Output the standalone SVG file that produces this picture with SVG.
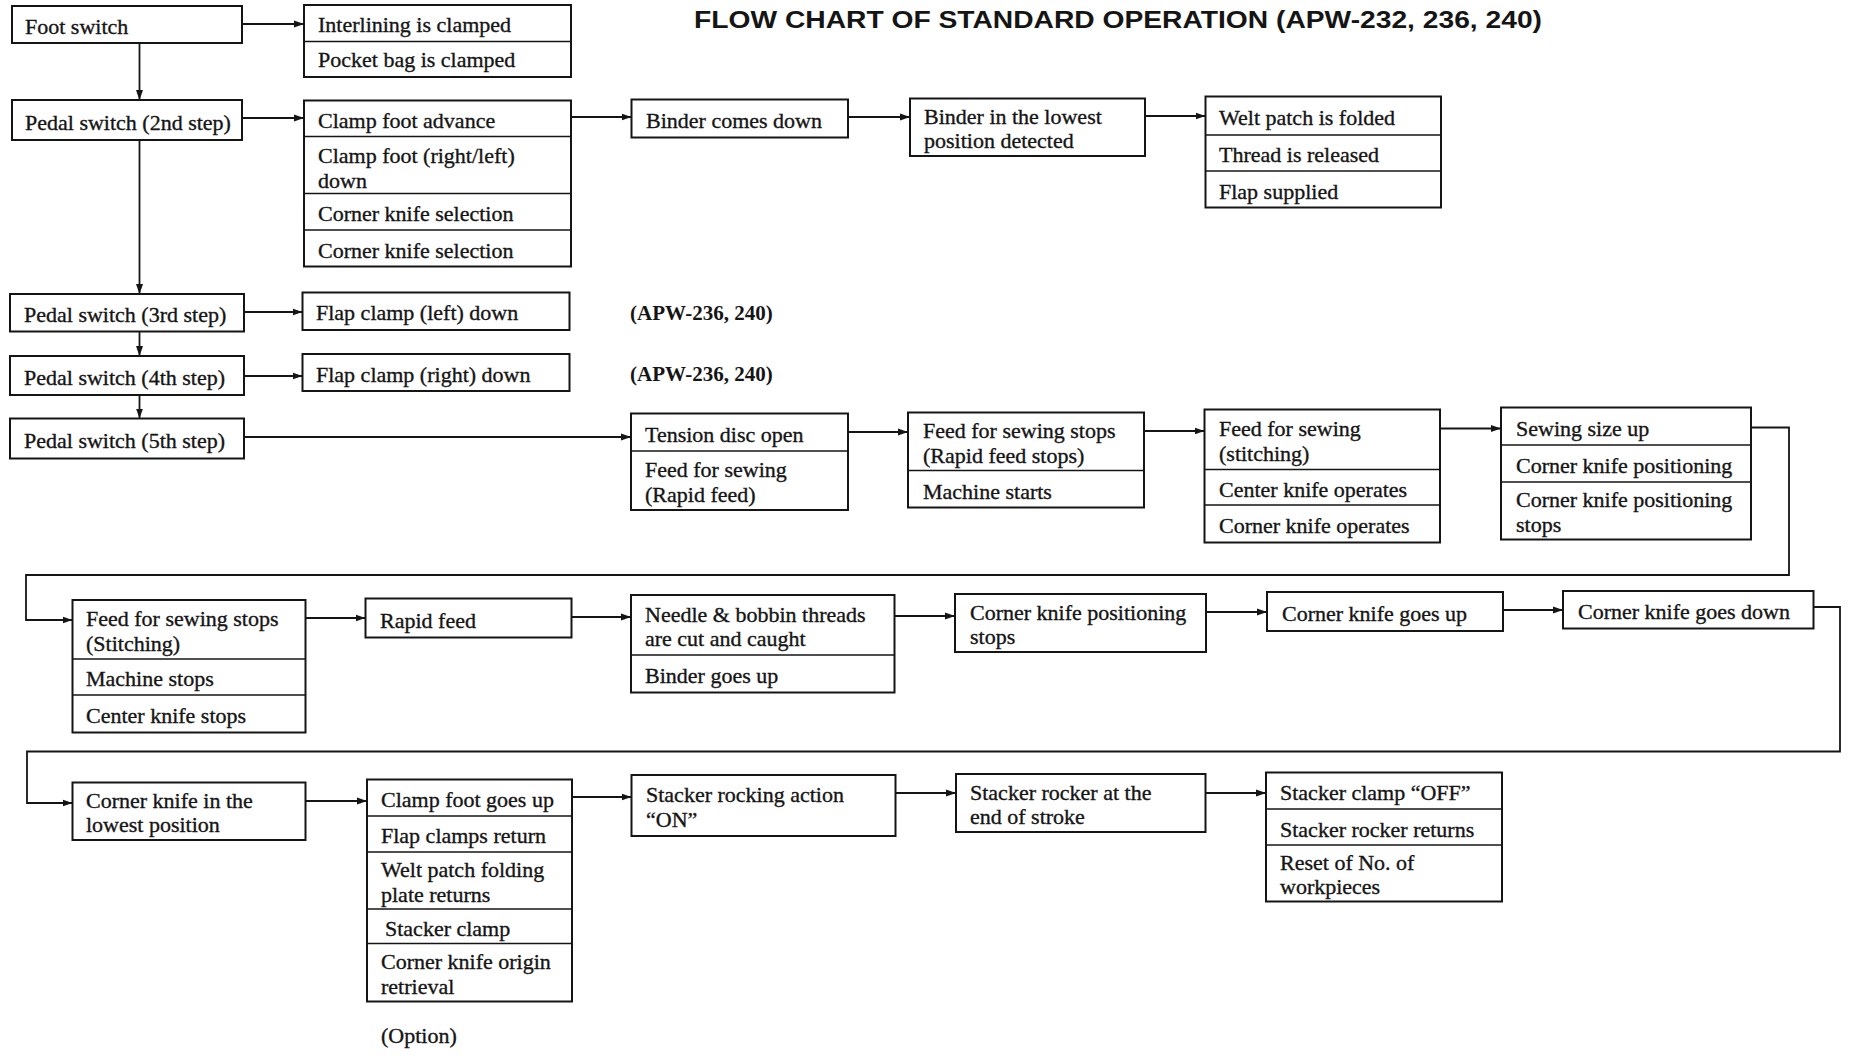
<svg xmlns="http://www.w3.org/2000/svg" width="1849" height="1056" viewBox="0 0 1849 1056">
<style>
.bg{fill:#fff}
.box{fill:#fff;stroke:#151515;stroke-width:2}
.dv{stroke:#151515;stroke-width:1.7}
.t{font-family:"Liberation Serif","Times New Roman",serif;font-size:22px;fill:#151515;stroke:#151515;stroke-width:0.35}
.note{font-family:"Liberation Serif","Times New Roman",serif;font-size:21px;font-weight:bold;fill:#151515}
.title{font-family:"Liberation Sans",Arial,sans-serif;font-size:24.5px;font-weight:bold;fill:#151515}
.c{stroke:#151515;stroke-width:1.8;fill:none}
.a{marker-end:url(#ah)}
</style>
<defs>
<marker id="ah" markerUnits="userSpaceOnUse" markerWidth="10" markerHeight="8" refX="10" refY="4" orient="auto">
<path d="M0,0.5 L10,4 L0,7.5 z" fill="#151515"/>
</marker>
</defs>
<rect class="bg" x="0" y="0" width="1849" height="1056"/>
<text class="title" x="694" y="28" textLength="848" lengthAdjust="spacingAndGlyphs">FLOW CHART OF STANDARD OPERATION (APW-232, 236, 240)</text>

<g id="connectors">
<path class="c a" d="M242,24 H304"/>
<path class="c a" d="M139.5,43 V100"/>
<path class="c a" d="M242,118 H304"/>
<path class="c a" d="M139.5,140 V294"/>
<path class="c a" d="M139.5,331.5 V356"/>
<path class="c a" d="M139.5,395 V418.5"/>
<path class="c a" d="M244,312 H302.5"/>
<path class="c a" d="M244,376 H302.5"/>
<path class="c a" d="M244,437 H631"/>
<path class="c a" d="M571,117 H631.5"/>
<path class="c a" d="M848,117 H910"/>
<path class="c a" d="M1145,116 H1205.5"/>
<path class="c a" d="M848,432 H908"/>
<path class="c a" d="M1144,431 H1204.5"/>
<path class="c a" d="M1440,428.5 H1501"/>
<path class="c a" d="M1751,427.5 H1789 V575 H26 V620 H72.5"/>
<path class="c a" d="M305.5,618 H365.5"/>
<path class="c a" d="M571.5,617 H631"/>
<path class="c a" d="M894.5,616 H955"/>
<path class="c a" d="M1206,612 H1267"/>
<path class="c a" d="M1503,610 H1563"/>
<path class="c a" d="M1813.5,607 H1840 V751.5 H27 V803 H72.5"/>
<path class="c a" d="M305.5,801 H367"/>
<path class="c a" d="M572,797 H631.5"/>
<path class="c a" d="M895.5,793 H956"/>
<path class="c a" d="M1205.5,793 H1266"/>
</g>

<g id="n_foot"><rect class="box" x="12" y="6" width="230" height="37"/><text class="t" x="25" y="34">Foot switch</text></g>
<g id="n_interlining"><rect class="box" x="304" y="5" width="267" height="72"/><line class="dv" x1="304" y1="41.5" x2="571" y2="41.5"/>
<text class="t" x="318" y="32">Interlining is clamped</text><text class="t" x="318" y="67">Pocket bag is clamped</text></g>
<g id="n_ped2"><rect class="box" x="12" y="100" width="230" height="40"/><text class="t" x="25" y="129.5">Pedal switch (2nd step)</text></g>
<g id="n_clampfoot"><rect class="box" x="304" y="100.5" width="267" height="166"/>
<line class="dv" x1="304" y1="136.5" x2="571" y2="136.5"/><line class="dv" x1="304" y1="193.5" x2="571" y2="193.5"/><line class="dv" x1="304" y1="230" x2="571" y2="230"/>
<text class="t" x="318" y="127.5">Clamp foot advance</text>
<text class="t" x="318" y="163">Clamp foot (right/left)<tspan x="318" dy="24.5">down</tspan></text>
<text class="t" x="318" y="221">Corner knife selection</text><text class="t" x="318" y="257.5">Corner knife selection</text></g>
<g id="n_binderdown"><rect class="box" x="631.5" y="99.5" width="216.5" height="38"/><text class="t" x="646" y="127.5">Binder comes down</text></g>
<g id="n_binderlow"><rect class="box" x="910" y="98.5" width="235" height="57.5"/><text class="t" x="924" y="123.5">Binder in the lowest<tspan x="924" dy="24.5">position detected</tspan></text></g>
<g id="n_welt"><rect class="box" x="1205.5" y="96.5" width="235.5" height="111"/>
<line class="dv" x1="1205.5" y1="135" x2="1441" y2="135"/><line class="dv" x1="1205.5" y1="171" x2="1441" y2="171"/>
<text class="t" x="1219" y="125">Welt patch is folded</text><text class="t" x="1219" y="162">Thread is released</text><text class="t" x="1219" y="198.5">Flap supplied</text></g>
<g id="n_ped3"><rect class="box" x="10" y="294" width="234" height="37.5"/><text class="t" x="24" y="321.5">Pedal switch (3rd step)</text></g>
<g id="n_flapL"><rect class="box" x="302.5" y="292.5" width="267" height="37.5"/><text class="t" x="316" y="320">Flap clamp (left) down</text></g>
<g id="n_ped4"><rect class="box" x="10" y="356" width="234" height="39"/><text class="t" x="24" y="384.5">Pedal switch (4th step)</text></g>
<g id="n_flapR"><rect class="box" x="302.5" y="354" width="267" height="37"/><text class="t" x="316" y="381.5">Flap clamp (right) down</text></g>
<text class="note" x="630" y="320">(APW-236, 240)</text>
<text class="note" x="630" y="381">(APW-236, 240)</text>
<g id="n_ped5"><rect class="box" x="10" y="418.5" width="234" height="40"/><text class="t" x="24" y="447.5">Pedal switch (5th step)</text></g>
<g id="n_tension"><rect class="box" x="631" y="413.5" width="217" height="96.5"/><line class="dv" x1="631" y1="451" x2="848" y2="451"/>
<text class="t" x="645" y="441.5">Tension disc open</text><text class="t" x="645" y="477">Feed for sewing<tspan x="645" dy="24.5">(Rapid feed)</tspan></text></g>
<g id="n_feedstops1"><rect class="box" x="908" y="412.5" width="236" height="95"/><line class="dv" x1="908" y1="470.5" x2="1144" y2="470.5"/>
<text class="t" x="923" y="438">Feed for sewing stops<tspan x="923" dy="24.5">(Rapid feed stops)</tspan></text><text class="t" x="923" y="498.5">Machine starts</text></g>
<g id="n_feedstitch"><rect class="box" x="1204.5" y="409.5" width="235.5" height="133"/>
<line class="dv" x1="1204.5" y1="469.5" x2="1440" y2="469.5"/><line class="dv" x1="1204.5" y1="505" x2="1440" y2="505"/>
<text class="t" x="1219" y="436">Feed for sewing<tspan x="1219" dy="24.5">(stitching)</tspan></text>
<text class="t" x="1219" y="496.5">Center knife operates</text><text class="t" x="1219" y="533">Corner knife operates</text></g>
<g id="n_sewing"><rect class="box" x="1501" y="407.5" width="250" height="132"/>
<line class="dv" x1="1501" y1="445" x2="1751" y2="445"/><line class="dv" x1="1501" y1="482" x2="1751" y2="482"/>
<text class="t" x="1516" y="435.5">Sewing size up</text><text class="t" x="1516" y="473">Corner knife positioning</text>
<text class="t" x="1516" y="507">Corner knife positioning<tspan x="1516" dy="24.5">stops</tspan></text></g>
<g id="n_feedstops2"><rect class="box" x="72.5" y="600" width="233" height="132.5"/>
<line class="dv" x1="72.5" y1="659" x2="305.5" y2="659"/><line class="dv" x1="72.5" y1="695" x2="305.5" y2="695"/>
<text class="t" x="86" y="626">Feed for sewing stops<tspan x="86" dy="24.5">(Stitching)</tspan></text>
<text class="t" x="86" y="686">Machine stops</text><text class="t" x="86" y="723">Center knife stops</text></g>
<g id="n_rapid"><rect class="box" x="365.5" y="598.5" width="206" height="39"/><text class="t" x="380" y="627.5">Rapid feed</text></g>
<g id="n_needle"><rect class="box" x="631" y="595" width="263.5" height="97.5"/><line class="dv" x1="631" y1="655" x2="894.5" y2="655"/>
<text class="t" x="645" y="621.5">Needle &amp; bobbin threads<tspan x="645" dy="24.5">are cut and caught</tspan></text><text class="t" x="645" y="683">Binder goes up</text></g>
<g id="n_ckps"><rect class="box" x="955" y="594" width="251" height="58"/><text class="t" x="970" y="619.5">Corner knife positioning<tspan x="970" dy="24.5">stops</tspan></text></g>
<g id="n_ckgu"><rect class="box" x="1267" y="592" width="236" height="39"/><text class="t" x="1282" y="620.5">Corner knife goes up</text></g>
<g id="n_ckgd"><rect class="box" x="1563" y="591" width="250.5" height="37.5"/><text class="t" x="1578" y="619">Corner knife goes down</text></g>
<g id="n_cklow"><rect class="box" x="72.5" y="782.5" width="233" height="57.5"/><text class="t" x="86" y="807.5">Corner knife in the<tspan x="86" dy="24.5">lowest position</tspan></text></g>
<g id="n_clampup"><rect class="box" x="367" y="779.5" width="205" height="222"/>
<line class="dv" x1="367" y1="816" x2="572" y2="816"/><line class="dv" x1="367" y1="852" x2="572" y2="852"/><line class="dv" x1="367" y1="909" x2="572" y2="909"/><line class="dv" x1="367" y1="943.5" x2="572" y2="943.5"/>
<text class="t" x="381" y="807">Clamp foot goes up</text><text class="t" x="381" y="843">Flap clamps return</text>
<text class="t" x="381" y="877">Welt patch folding<tspan x="381" dy="24.5">plate returns</tspan></text>
<text class="t" x="385" y="935.5">Stacker clamp</text>
<text class="t" x="381" y="969">Corner knife origin<tspan x="381" dy="24.5">retrieval</tspan></text></g>
<text class="t" x="381" y="1043">(Option)</text>
<g id="n_stackrock"><rect class="box" x="631.5" y="775" width="264" height="61"/><text class="t" x="646" y="802">Stacker rocking action<tspan x="646" dy="24.5">“ON”</tspan></text></g>
<g id="n_stackend"><rect class="box" x="956" y="774" width="249.5" height="58"/><text class="t" x="970" y="799.5">Stacker rocker at the<tspan x="970" dy="24.5">end of stroke</tspan></text></g>
<g id="n_stackoff"><rect class="box" x="1266" y="772.5" width="236" height="129"/>
<line class="dv" x1="1266" y1="809" x2="1502" y2="809"/><line class="dv" x1="1266" y1="845" x2="1502" y2="845"/>
<text class="t" x="1280" y="800">Stacker clamp “OFF”</text><text class="t" x="1280" y="836.5">Stacker rocker returns</text>
<text class="t" x="1280" y="869.5">Reset of No. of<tspan x="1280" dy="24.5">workpieces</tspan></text></g>
</svg>
